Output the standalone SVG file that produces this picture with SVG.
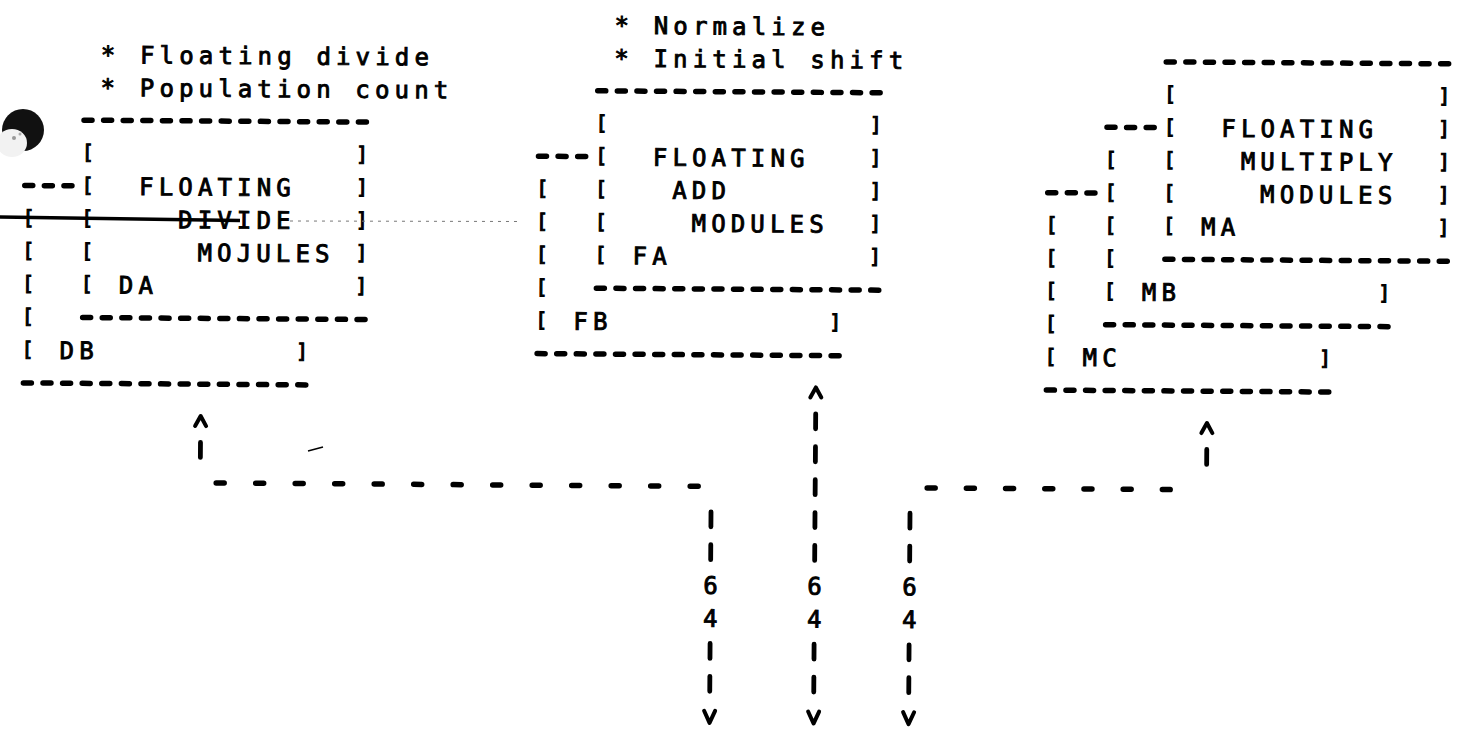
<svg xmlns="http://www.w3.org/2000/svg" width="1477" height="740" viewBox="0 0 1477 740">
<defs>
<style>
.t{font-family:"DejaVu Sans Mono","Liberation Mono",monospace;font-size:24px;letter-spacing:5.15px;fill:#000;stroke:#000;stroke-width:0.9px}
.b{font-family:"DejaVu Sans Mono","Liberation Mono",monospace;font-size:20px;text-anchor:middle;fill:#000;stroke:#000;stroke-width:1.1px}
.n{font-family:"DejaVu Sans Mono","Liberation Mono",monospace;font-size:24px;text-anchor:middle;fill:#000;stroke:#000;stroke-width:0.9px}
.d{fill:none;stroke:#000;stroke-width:5.5;stroke-linecap:round;stroke-dasharray:8 11.6}
.cl{fill:none;stroke:#000;stroke-width:5.5;stroke-linecap:round;stroke-dasharray:8 31.5}
.cr{fill:none;stroke:#000;stroke-width:5.5;stroke-linecap:round;stroke-dasharray:8 31.2}
.vb{fill:none;stroke:#000;stroke-width:4.8;stroke-linecap:round;stroke-dasharray:15 17.9}
.ah{fill:none;stroke:#000;stroke-width:4;stroke-linecap:round;stroke-linejoin:round}
</style>
</defs>
<rect width="1477" height="740" fill="#fff"/>
<g transform="rotate(0.4 738 370)">
<g id="divide">
<text class="t" x="98.7" y="67.6">* Floating divide</text>
<text class="t" x="98.7" y="100.5">* Population count</text>
<line class="d" x1="82.3" y1="124.7" x2="364.7" y2="124.7"/>
<text class="b" x="86.3" y="163.6">[</text><text class="b" x="360.7" y="163.6">]</text>
<line class="d" x1="23.5" y1="190.5" x2="70.7" y2="190.5"/>
<text class="b" x="86.3" y="196.5">[</text><text class="t" x="137.9" y="199.2">FLOATING</text><text class="b" x="360.7" y="196.5">]</text>
<text class="b" x="27.5" y="229.4">[</text><text class="b" x="86.3" y="229.4">[</text><text class="t" x="177.1" y="232.1">DIVIDE</text><text class="b" x="360.7" y="229.4">]</text>
<text class="b" x="27.5" y="262.3">[</text><text class="b" x="86.3" y="262.3">[</text><text class="t" x="196.7" y="265">MOJULES</text><text class="b" x="360.7" y="262.3">]</text>
<text class="b" x="27.5" y="295.2">[</text><text class="b" x="86.3" y="295.2">[</text><text class="t" x="118.3" y="297.9">DA</text><text class="b" x="360.7" y="295.2">]</text>
<text class="b" x="27.5" y="328.1">[</text>
<line class="d" x1="82.3" y1="322.1" x2="364.7" y2="322.1"/>
<text class="b" x="27.5" y="361">[</text><text class="t" x="59.5" y="363.7">DB</text><text class="b" x="301.9" y="361">]</text>
<line class="d" x1="23.5" y1="387.9" x2="305.9" y2="387.9"/>
</g>
<g id="add">
<text class="t" x="612.2" y="34.7">* Normalize</text>
<text class="t" x="612.2" y="67.6">* Initial shift</text>
<line class="d" x1="595.8" y1="91.8" x2="878.2" y2="91.8"/>
<text class="b" x="599.8" y="130.7">[</text><text class="b" x="874.2" y="130.7">]</text>
<line class="d" x1="537" y1="157.6" x2="584.2" y2="157.6"/>
<text class="b" x="599.8" y="163.6">[</text><text class="t" x="651.4" y="166.3">FLOATING</text><text class="b" x="874.2" y="163.6">]</text>
<text class="b" x="541" y="196.5">[</text><text class="b" x="599.8" y="196.5">[</text><text class="t" x="671" y="199.2">ADD</text><text class="b" x="874.2" y="196.5">]</text>
<text class="b" x="541" y="229.4">[</text><text class="b" x="599.8" y="229.4">[</text><text class="t" x="690.6" y="232.1">MODULES</text><text class="b" x="874.2" y="229.4">]</text>
<text class="b" x="541" y="262.3">[</text><text class="b" x="599.8" y="262.3">[</text><text class="t" x="631.8" y="265">FA</text><text class="b" x="874.2" y="262.3">]</text>
<text class="b" x="541" y="295.2">[</text>
<line class="d" x1="595.8" y1="289.2" x2="878.2" y2="289.2"/>
<text class="b" x="541" y="328.1">[</text><text class="t" x="573" y="330.8">FB</text><text class="b" x="835" y="328.1">]</text>
<line class="d" x1="537" y1="355" x2="839" y2="355"/>
</g>
<g id="multiply">
<line class="d" x1="1164.1" y1="58.9" x2="1446.5" y2="58.9"/>
<text class="b" x="1168.1" y="97.8">[</text><text class="b" x="1442.5" y="97.8">]</text>
<line class="d" x1="1105.3" y1="124.7" x2="1152.5" y2="124.7"/>
<text class="b" x="1168.1" y="130.7">[</text><text class="t" x="1219.7" y="133.4">FLOATING</text><text class="b" x="1442.5" y="130.7">]</text>
<text class="b" x="1109.3" y="163.6">[</text><text class="b" x="1168.1" y="163.6">[</text><text class="t" x="1239.3" y="166.3">MULTIPLY</text><text class="b" x="1442.5" y="163.6">]</text>
<line class="d" x1="1046.5" y1="190.5" x2="1093.7" y2="190.5"/>
<text class="b" x="1109.3" y="196.5">[</text><text class="b" x="1168.1" y="196.5">[</text><text class="t" x="1258.9" y="199.2">MODULES</text><text class="b" x="1442.5" y="196.5">]</text>
<text class="b" x="1050.5" y="229.4">[</text><text class="b" x="1109.3" y="229.4">[</text><text class="b" x="1168.1" y="229.4">[</text><text class="t" x="1200.1" y="232.1">MA</text><text class="b" x="1442.5" y="229.4">]</text>
<text class="b" x="1050.5" y="262.3">[</text><text class="b" x="1109.3" y="262.3">[</text>
<line class="d" x1="1164.1" y1="256.3" x2="1446.5" y2="256.3"/>
<text class="b" x="1050.5" y="295.2">[</text><text class="b" x="1109.3" y="295.2">[</text><text class="t" x="1141.3" y="297.9">MB</text><text class="b" x="1383.7" y="295.2">]</text>
<text class="b" x="1050.5" y="328.1">[</text>
<line class="d" x1="1105.3" y1="322.1" x2="1387.7" y2="322.1"/>
<text class="b" x="1050.5" y="361">[</text><text class="t" x="1082.5" y="363.7">MC</text><text class="b" x="1324.9" y="361">]</text>
<line class="d" x1="1046.5" y1="387.9" x2="1328.9" y2="387.9"/>
</g>
<g id="connectors">
<path class="ah" d="M195.5 429.8 L201 419.8 L206.5 429.8"/>
<line class="vb" x1="201" y1="446.2" x2="201" y2="461.2"/>
<line class="cl" x1="217" y1="486.6" x2="699" y2="486.6"/>
<path class="ah" d="M1201.8 429.8 L1207.3 419.8 L1212.8 429.8"/>
<line class="vb" x1="1207.3" y1="446.2" x2="1207.3" y2="461.2"/>
<line class="cr" x1="928" y1="486.6" x2="1171" y2="486.6"/>
<path class="ah" d="M810.5 396.9 L816 386.9 L821.5 396.9"/>
<line class="vb" x1="816" y1="413.3" x2="816" y2="559.9"/>
<line class="vb" x1="816" y1="643.6" x2="816" y2="691.5"/>
<path class="ah" d="M810.5 711 L816 723 L821.5 711"/>
<line class="vb" x1="712" y1="512" x2="712" y2="559.9"/>
<line class="vb" x1="712" y1="643.6" x2="712" y2="691.5"/>
<path class="ah" d="M706.5 711 L712 723 L717.5 711"/>
<line class="vb" x1="911" y1="512" x2="911" y2="559.9"/>
<line class="vb" x1="911" y1="643.6" x2="911" y2="691.5"/>
<path class="ah" d="M905.5 711 L911 723 L916.5 711"/>
</g>
<g id="labels">
<text class="n" x="712" y="594">6</text><text class="n" x="712" y="626.9">4</text>
<text class="n" x="816" y="594">6</text><text class="n" x="816" y="626.9">4</text>
<text class="n" x="911" y="594">6</text><text class="n" x="911" y="626.9">4</text>
</g>
</g>
<g id="artifacts">
<circle cx="23" cy="130" r="21" fill="#111"/>
<ellipse cx="12" cy="143" rx="15" ry="14" fill="#f2f2f2"/>
<circle cx="14" cy="138" r="2" fill="#999"/>
<circle cx="20" cy="134" r="1.5" fill="#aaa"/>
<line x1="0" y1="217" x2="240" y2="220.5" stroke="#000" stroke-width="3.5"/>
<line x1="290" y1="221" x2="520" y2="221.5" stroke="#777" stroke-width="1" stroke-dasharray="3 5"/>
<line x1="308" y1="451" x2="323" y2="447" stroke="#000" stroke-width="1.5"/>
</g>
</svg>
